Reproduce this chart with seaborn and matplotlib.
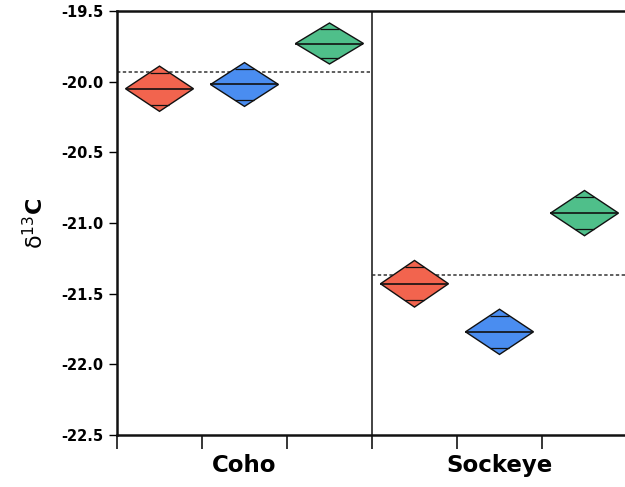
import numpy as np
import pandas as pd
import matplotlib
matplotlib.use("Agg")
import matplotlib.pyplot as plt
import seaborn as sns

# Species groups and the three sub-groups drawn inside each
species = ["Coho", "Sockeye"]
subgroups = ["red", "blue", "green"]
subgroup_colors = ["#f2644e", "#4a8df0", "#4fbf8a"]

# Group means of delta-13C and the half-width of their 95% intervals
coho_means = [-20.05, -20.02, -19.73]
coho_ci = [0.16, 0.155, 0.145]
sockeye_means = [-21.43, -21.77, -20.93]
sockeye_ci = [0.165, 0.16, 0.16]

# Grand mean of each species (dashed reference lines)
grand_means = [-19.93, -21.37]

y_ticks = [-22.5, -22.0, -21.5, -21.0, -20.5, -20.0, -19.5]
y_tick_labels = ["-22.5", "-22.0", "-21.5", "-21.0", "-20.5", "-20.0", "-19.5"]

sns.set_style("ticks")
plt.rcParams["font.family"] = ["DejaVu Sans"]
plt.rcParams["mathtext.fontset"] = "dejavusans"
plt.rcParams["text.color"] = "black"
plt.rcParams["axes.labelcolor"] = "black"
plt.rcParams["xtick.color"] = "black"
plt.rcParams["ytick.color"] = "black"

rows = []
for s, (m_list, c_list) in enumerate([(coho_means, coho_ci), (sockeye_means, sockeye_ci)]):
    for g, (m, c) in enumerate(zip(m_list, c_list)):
        rows.append({"species": species[s], "subgroup": subgroups[g],
                     "slot": s * 3 + g + 0.5, "mean": m, "ci": c,
                     "color": subgroup_colors[g]})
df = pd.DataFrame(rows)

fig = plt.figure(figsize=(6.25, 4.87), dpi=100)
ax = fig.add_axes([117 / 625, 1 - 435 / 487, 510 / 625, 424 / 487])

half_w = 0.40
for _, r in df.iterrows():
    x, m, c = r["slot"], r["mean"], r["ci"]
    xs = [x - half_w, x, x + half_w, x, x - half_w]
    ys = [m, m + c, m, m - c, m]
    ax.fill(xs, ys, facecolor=r["color"], edgecolor="#111111", linewidth=1.0, zorder=3)
    # mean line across the diamond
    ax.hlines(m, x - half_w, x + half_w, color="#111111", linewidth=1.2, zorder=4)
    # overlap marks at mean +/- ci / sqrt(2)
    off = c / np.sqrt(2)
    w_at = half_w * (1 - 1 / np.sqrt(2))
    for yy in (m + off, m - off):
        ax.hlines(yy, x - w_at, x + w_at, color="#111111", linewidth=0.9, zorder=4)

# Grand mean reference lines, one per species block
gm_df = pd.DataFrame({
    "x": [0, 3, 3, 6],
    "y": [grand_means[0], grand_means[0], grand_means[1], grand_means[1]],
    "species": [species[0], species[0], species[1], species[1]],
})
sns.lineplot(data=gm_df, x="x", y="y", units="species", estimator=None,
             color="#333333", linewidth=1.1, linestyle=(0, (2.2, 1.6)),
             ax=ax, zorder=2, legend=False)

# Separator between species blocks
ax.axvline(3, color="#111111", linewidth=1.1, zorder=1)

ax.set_xlim(0, 6)
ax.set_ylim(-22.5, -19.5)

ax.set_yticks(y_ticks)
ax.set_yticklabels(y_tick_labels, fontsize=10.5, fontweight="bold")
ax.set_xticks(range(7))
ax.set_xticklabels([])
ax.set_xticks([1.5, 4.5], minor=True)
ax.set_xticklabels(species, minor=True, fontsize=16.5, fontweight="bold")
ax.tick_params(axis="x", which="major", length=10, width=1.1, direction="out")
ax.tick_params(axis="x", which="minor", length=0, pad=14)
ax.tick_params(axis="y", length=6, width=1.0, direction="out", pad=4)

for side in ["left", "bottom", "top"]:
    ax.spines[side].set_visible(True)
    ax.spines[side].set_linewidth(1.8)
    ax.spines[side].set_color("#111111")
ax.spines["right"].set_visible(False)

ax.set_xlabel("")
ax.set_ylabel(r"δ$^{13}$$\mathbf{C}$", fontsize=16, labelpad=10)

fig.savefig("out.png", dpi=100)
